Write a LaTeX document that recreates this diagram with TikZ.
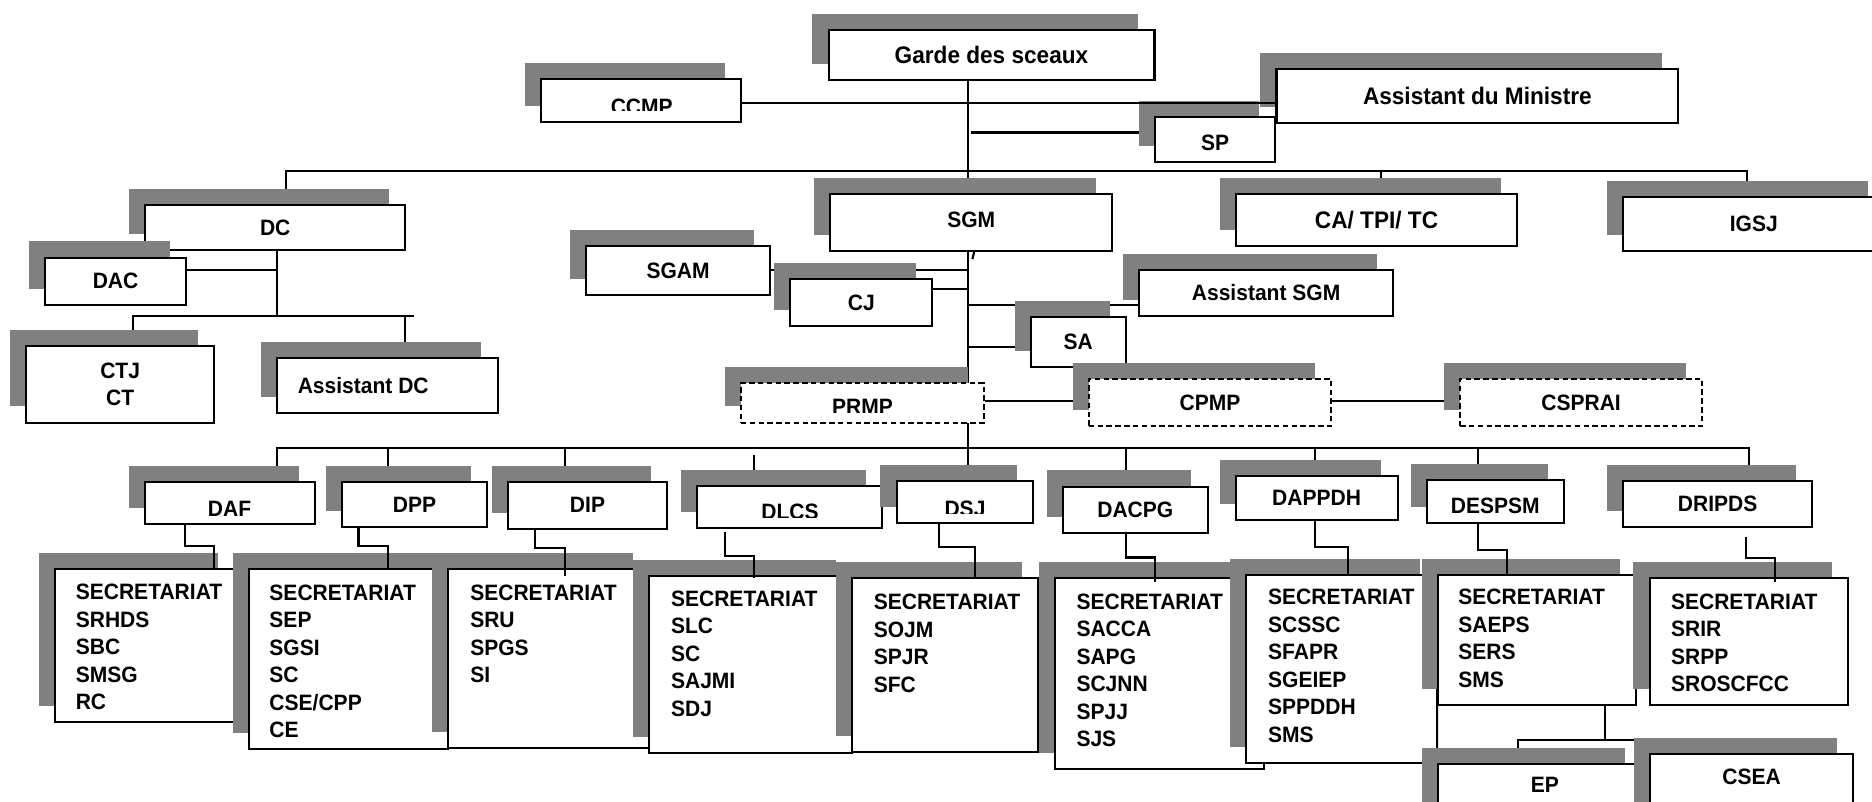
\documentclass[tikz,border=0pt]{standalone}
\usepackage{fontspec}
\newfontfamily\orgfont{Liberation Sans}[FakeStretch=0.945]
\usepackage{tikz}
\usetikzlibrary{
	fit,
	shadows,
	backgrounds
}
\usepackage{xcolor}
\definecolor{shadowgray}{RGB}{128,128,128}

\begin{document}
\begin{tikzpicture}[x=0.01cm,y=-0.01cm,
		link/.style={line width=0.5pt},
		box/.style={draw,line width=0.5pt,fill=white,inner sep=0pt,
			drop shadow={shadow xshift=-1.35mm,shadow yshift=1.35mm,fill=shadowgray,opacity=1}},
		dashbox/.style={box,dash pattern=on 1.3pt off 0.8pt},
		lbl/.style={inner sep=0pt,font=\orgfont\bfseries\fontsize{5.3}{6.55}\selectfont},
		biglbl/.style={inner sep=0pt,font=\orgfont\bfseries\fontsize{5.7}{6.8}\selectfont},
		list/.style={lbl,align=left,anchor=north west}]
		
		\useasboundingbox (0,0) rectangle (1568,671);
		
		% Ministre
		\node[box,fit={(694,25) (967,67)},label={[biglbl]center:Garde des sceaux}] (garde) {};
		\node[box,fit={(453.5,66.4) (620.6,101.9)}] (ccmp) {};
		\begin{scope}
			\clip (ccmp.north west) rectangle (620.6,92.8);
			\node[lbl,anchor=north] (ccmp-t) at (537.5,81.8) {CCMP};
		\end{scope}
		\node[box,fit={(1069.2,57.8) (1405.7,103.3)},label={[biglbl]center:Assistant du Ministre}] (adm) {};
		\node[box,fit={(967.8,98.3) (1067.7,135.4)},label={[lbl,yshift=-0.03cm]center:SP}] (sp) {};
		
		% Second level
		\node[box,fit={(121.5,171.7) (339.6,209.4)},label={[lbl]center:DC}] (dc) {};
		\node[box,fit={(695.5,162.5) (931.6,210)},label={[lbl,yshift=0.02cm]center:SGM}] (sgm) {};
		\node[box,fit={(1035,162.5) (1271,206)},label={[biglbl]center:CA/ TPI/ TC}] (ca) {};
		\node[box,fit={(1359.5,165) (1578.5,210)},label={[lbl]center:IGSJ}] (igsj) {};
		
		% DC
		\node[box,fit={(37.6,215.8) (156,255.5)},label={[lbl]center:DAC}] (dac) {};
		\node[box,fit={(22,290) (179.3,354)},label={[lbl,align=center]center:CTJ\\CT}] (ctj) {};
		\node[box,fit={(232,299.6) (416.8,346)},label={[lbl,anchor=west,xshift=0.176cm]west:Assistant DC}] (assdc) {};
		
		% SGM
		\node[box,fit={(491,206) (645,247)},label={[lbl]center:SGAM}] (sgam) {};
		\node[box,fit={(662,234) (781,273)},label={[lbl]center:CJ}] (cj) {};
		\node[box,fit={(954,226) (1167,264.5)},label={[lbl]center:Assistant SGM}] (assgm) {};
		\node[box,fit={(863.3,265.8) (943,307.6)},label={[lbl]center:SA}] (sa) {};
		\node[dashbox,fit={(620.6,321) (824,354)}] (prmp) {};
		\begin{scope}
			\clip (prmp.north west) rectangle (824,345.3);
			\node[lbl,anchor=north] (prmp-t) at (722.5,333.6) {PRMP};
		\end{scope}
		\node[dashbox,fit={(912,317.5) (1115,356.8)},label={[lbl]center:CPMP}] (cpmp) {};
		\node[dashbox,fit={(1223,317.5) (1425.7,357)},label={[lbl]center:CSPRAI}] (csprai) {};
		
		% Directions
		\node[box,fit={(121.6,403.5) (263.6,439)}] (daf) {};
		\begin{scope}
			\clip (daf.north west) rectangle (263.6,431.4);
			\node[lbl,anchor=north] (daf-t) at (192.3,418.8) {DAF};
		\end{scope}
		\node[box,fit={(286.7,403.5) (407.7,441.7)},label={[lbl]center:DPP}] (dpp) {};
		\node[box,fit={(425.8,403.5) (558.4,443)},label={[lbl]center:DIP}] (dip) {};
		\node[box,fit={(584,407) (739,442.5)}] (dlcs) {};
		\begin{scope}
			\clip (dlcs.north west) rectangle (739,433.3);
			\node[lbl,anchor=north] (dlcs-t) at (661.7,421.6) {DLCS};
		\end{scope}
		\node[box,fit={(751,403.2) (865,438.3)}] (dsj) {};
		\begin{scope}
			\clip (dsj.north west) rectangle (865,430);
			\node[lbl,anchor=north] (dsj-t) at (808.3,418.8) {DSJ};
		\end{scope}
		\node[box,fit={(890.4,407.6) (1011.5,446.6)},label={[lbl]center:DACPG}] (dacpg) {};
		\node[box,fit={(1035,398.7) (1170.6,435.6)},label={[lbl]center:DAPPDH}] (dappdh) {};
		\node[box,fit={(1195,402) (1310,438.3)},label={[lbl,yshift=-0.035cm]center:DESPSM}] (despsm) {};
		\node[box,fit={(1359.5,402.6) (1518,441.7)},label={[lbl]center:DRIPDS}] (dripds) {};
		
		% Services
		\node[box,fit={(46.2,476.9) (195.8,604.5)}] (sdaf) {};
		\node[list] (sdaf-t) at (62.8,488.8) {SECRETARIAT\\SRHDS\\SBC\\SMSG\\RC};
		\node[box,fit={(208.9,476.9) (375.6,627.3)}] (sdpp) {};
		\begin{scope}
			\clip (sdpp.north west) rectangle (375.6,617.5);
			\node[list] (sdpp-t) at (225,489.1) {SECRETARIAT\\SEP\\SGSI\\SC\\CSE/CPP\\CE};
		\end{scope}
		\node[box,fit={(375.6,476.9) (543.8,626.8)}] (sdip) {};
		\node[list] (sdip-t) at (393.2,489.1) {SECRETARIAT\\SRU\\SPGS\\SI};
		\node[box,fit={(543.8,482.2) (713.6,631)}] (sdlcs) {};
		\node[list] (sdlcs-t) at (561.4,494) {SECRETARIAT\\SLC\\SC\\SAJMI\\SDJ};
		\node[box,fit={(713.6,484.4) (869.3,629.6)}] (sdsj) {};
		\node[list] (sdsj-t) at (731.2,497) {SECRETARIAT\\SOJM\\SPJR\\SFC};
		\node[box,fit={(883.4,484.4) (1058.8,644.4)}] (sdacpg) {};
		\node[list] (sdacpg-t) at (901,496.6) {SECRETARIAT\\SACCA\\SAPG\\SCJNN\\SPJJ\\SJS};
		\node[box,fit={(1043.7,481.6) (1203.3,638.8)}] (sdappdh) {};
		\node[list] (sdappdh-t) at (1061.5,493) {SECRETARIAT\\SCSSC\\SFAPR\\SGEIEP\\SPPDDH\\SMS};
		\node[box,fit={(1204.5,481.6) (1370.5,590.3)}] (sdespsm) {};
		\node[list] (sdespsm-t) at (1220.9,493) {SECRETARIAT\\SAEPS\\SERS\\SMS};
		\node[box,fit={(1381.7,484.4) (1547.8,590.3)}] (sdripds) {};
		\node[list] (sdripds-t) at (1399,496.6) {SECRETARIAT\\SRIR\\SRPP\\SROSCFCC};
		
		\node[box,fit={(1204.7,639.9) (1374.2,700)}] (ep) {};
		\node[lbl] (ep-t) at (1294,657.5) {EP};
		\node[box,fit={(1382,631.5) (1552.3,700)}] (csea) {};
		\node[lbl] (csea-t) at (1467.2,650.5) {CSEA};
		
		% Connectors behind the boxes
		\begin{scope}[on background layer]
			\draw[link] (garde.south -| 811,0) -- (dsj.north -| 811,0);
			\draw[link] (dc.north -| 239.6,0) -- (239.6,143) -- (1463,143) -- (igsj.north -| 1463,0);
			\draw[link] (1157,143) -- (ca.north -| 1157,0);
			\draw[link] (813.5,111) -- (sp.west |- 0,111);
			
			\draw[link] (sgam.east |- 0,226) -- (811,226);
			\draw[link] (cj.east |- 0,242) -- (811,242);
			\draw[link] (811,255.5) -- (assgm.west |- 0,255.5);
			\draw[link] (811,290.4) -- (sa.west |- 0,290.4);
			\draw[link] (816,211) -- (814.5,217);
			\draw[link] (prmp.east |- 0,335.6) -- (cpmp.west |- 0,335.6);
			\draw[link] (cpmp.east |- 0,335.6) -- (csprai.west |- 0,335.6);
			
			\draw[link] (dc.south -| 232,0) -- (232,264.7);
			\draw[link] (dac.east |- 0,226.1) -- (232,226.1);
			\draw[link] (ctj.north -| 111.5,0) -- (111.5,264.7) -- (346.5,264.7);
			\draw[link] (339,264.7) -- (assdc.north -| 339,0);
			
			\draw[link] (daf.north -| 232,0) -- (232,375.3) -- (1465,375.3) -- (dripds.north -| 1465,0);
			\foreach \x/\d in {325/dpp,473.5/dip,943/dacpg,1101.8/dappdh,1238/despsm}
				\draw[link] (\x,375.3) -- (\d.north -| \x,0);
			\draw[link] (631.4,381) -- (dlcs.north -| 631.4,0);
			
			\draw[link] (sdespsm.south -| 1344.3,0) -- (1344.3,619.8);
			\draw[link] (ep.north -| 1271.7,0) -- (1271.7,619.8) -- (1409.7,619.8);
			\draw[link] (sdespsm.south west) -- (ep.north west);
		\end{scope}
		
		% Directions to services
		\draw[link] (daf.south -| 154.7,0) |- (179.3,457.3) -- (sdaf.north -| 179.3,0);
		\draw[link] (dpp.south -| 300.3,0) |- (325,457.3) -- (sdpp.north -| 325,0);
		\draw[link] (dip.south -| 448.4,0) |- (473.5,459.3) -- (473.5,482.2);
		\draw[link] (607,446) |- (631.2,465.4) -- (631.2,484);
		\draw[link] (dsj.south -| 786.5,0) |- (816.6,458.2) -- (sdsj.north -| 816.6,0);
		\draw[link] (dacpg.south -| 943.2,0) |- (967.3,467) -- (967.3,487.7);
		\draw[link] (dappdh.south -| 1101.8,0) |- (1129,457.9) -- (sdappdh.north -| 1129,0);
		\draw[link] (despsm.south -| 1238,0) |- (1262,460.7) -- (sdespsm.north -| 1262,0);
		\draw[link] (1462.5,449.5) |- (1487,467.6) -- (1487,487.7);
		
		\draw[link] (ccmp.east |- 0,86.6) -- (adm.west |- 0,86.6);
		
	\end{tikzpicture}
\end{document}
